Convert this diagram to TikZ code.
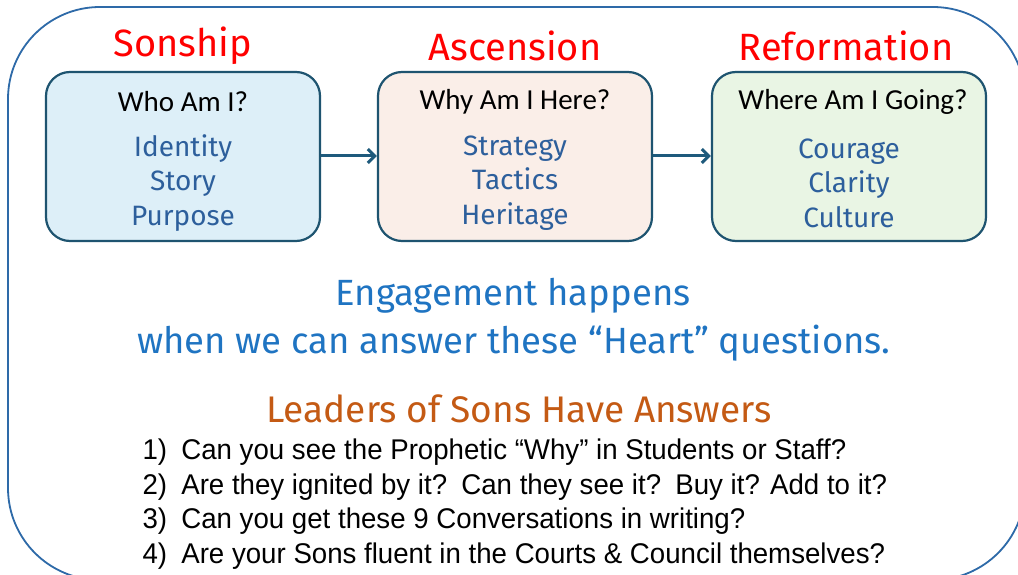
\documentclass[tikz,border=0pt]{standalone}
\usepackage{fontspec}
\setmainfont{Carlito}
\newfontfamily\hand{Fira Sans}
\newfontfamily\narrowf[FakeStretch=0.97]{Liberation Sans}
\usetikzlibrary{arrows.meta}
\definecolor{outerblue}{HTML}{2E6AA8}
\definecolor{boxedge}{HTML}{1E5470}
\definecolor{arrowc}{HTML}{1E5A7C}
\definecolor{fillA}{HTML}{DDEFF8}
\definecolor{fillB}{HTML}{FAEEE8}
\definecolor{fillC}{HTML}{E9F5E4}
\definecolor{itemblue}{HTML}{2D5F9C}
\definecolor{engblue}{HTML}{1F74C2}
\definecolor{leadc}{HTML}{C45A14}
\definecolor{headred}{HTML}{FF0000}
\tikzset{
  stagebox/.style={draw=boxedge, line width=2.2pt, rounded corners=24pt, minimum width=274pt, minimum height=169pt},
  heading/.style={text=headred, font=\hand\fontsize{38}{40}\selectfont},
  question/.style={font=\fontsize{29}{32}\selectfont, text=black},
  items/.style={text=itemblue, align=center, font=\hand\fontsize{28}{34.5}\selectfont},
  flow/.style={draw=arrowc, line width=3pt, -{Straight Barb[length=7pt,width=14pt,line width=3pt]}},
  eng/.style={text=engblue, font=\hand\fontsize{36.5}{40}\selectfont},
  lead/.style={text=leadc, font=\hand\fontsize{37}{40}\selectfont},
  qline/.style={anchor=west, font=\narrowf\fontsize{28.5}{30}\selectfont, text=black},
}
\begin{document}
\begin{tikzpicture}[x=1pt,y=-1pt]
\clip (0,0) rectangle (1018,575);
\fill[white] (0,0) rectangle (1018,575);
\draw[outerblue, line width=1.8pt, rounded corners=92pt] (8,7) rectangle (1025,580);

\node[stagebox, fill=fillA] (b1) at (183,156.5) {};
\node[stagebox, fill=fillB] (b2) at (515,156.5) {};
\node[stagebox, fill=fillC] (b3) at (849,156.5) {};

\node[heading] (h1) at (183,46) {Sonship};
\node[heading] (h2) at (515,46) {Ascension};
\node[heading] (h3) at (846,46) {Reformation};

\node[question] (q1) at (183,102) {Who Am I?};
\node[question] (q2) at (515,102) {Why Am I Here?};
\node[question] (q3) at (853,102) {Where Am I Going?};

\node[items] (i1) at (183,183) {Identity\\Story\\Purpose};
\node[items] (i2) at (515,183) {Strategy\\Tactics\\Heritage};
\node[items] (i3) at (849,183) {Courage\\Clarity\\Culture};

\draw[flow] (b1.east |- 0,156) -- (b2.west |- 0,156);
\draw[flow] (b2.east |- 0,156) -- (b3.west |- 0,156);

\node[eng] (e1) at (513,296) {Engagement happens};
\node[eng] (e2) at (514,343) {when we can answer these “Heart” questions.};

\node[lead] (l1) at (519,409) {Leaders of Sons Have Answers};

\node[qline] (t1) at (139,452) {1)\enspace Can you see the Prophetic “Why” in Students or Staff?};
\node[qline] (t2) at (139,487) {2)\enspace Are they ignited by it?\enspace Can they see it?\enspace Buy it? Add to it?};
\node[qline] (t3) at (139,521) {3)\enspace Can you get these 9 Conversations in writing?};
\node[qline] (t4) at (139,556) {4)\enspace Are your Sons fluent in the Courts \& Council themselves?};
\end{tikzpicture}
\end{document}
